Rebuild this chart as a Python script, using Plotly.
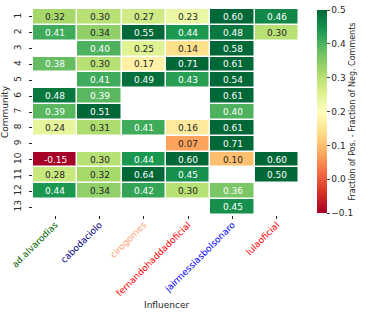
import plotly.graph_objects as go

influencers = ["ad.alvarodias", "cabodaciolo", "cirogomes",
               "fernandohaddadoficial", "jairmessiasbolsonaro", "lulaoficial"]
label_colors = ["#006400", "#000080", "#FFA07A", "#FF0000", "#0000FF", "#FF0000"]
communities = list(range(1, 14))

N = None
ad_alvarodias = [0.32, 0.41, N, 0.38, N, 0.48, 0.39, 0.24, N, -0.15, 0.28, 0.44, N]
cabodaciolo = [0.30, 0.34, 0.40, 0.30, 0.41, 0.39, 0.51, 0.31, N, 0.30, 0.32, 0.34, N]
cirogomes = [0.27, 0.55, 0.25, 0.17, 0.49, N, N, 0.41, N, 0.44, 0.64, 0.42, N]
fernandohaddad = [0.23, 0.44, 0.14, 0.71, 0.43, N, N, 0.16, 0.07, 0.60, 0.45, 0.30, N]
jairbolsonaro = [0.60, 0.48, 0.58, 0.61, 0.54, 0.61, 0.40, 0.61, 0.71, 0.10, N, 0.36, 0.45]
lulaoficial = [0.46, 0.30, N, N, N, N, N, N, N, 0.60, 0.50, N, N]

columns = [ad_alvarodias, cabodaciolo, cirogomes, fernandohaddad, jairbolsonaro, lulaoficial]
z = [[col[r] for col in columns] for r in range(len(communities))]
xidx = list(range(len(influencers)))

fig = go.Figure(go.Heatmap(
    z=z, x=xidx, y=communities,
    colorscale="RdYlGn", zmin=-0.1, zmax=0.5,
    xgap=1.5, ygap=1.5, hoverongaps=False,
    colorbar=dict(
        thickness=10, len=203, lenmode="pixels", y=0.995, yanchor="top",
        x=1, xanchor="left", xpad=18, ypad=0, xref="paper",
        tickvals=[-0.1, 0.0, 0.1, 0.2, 0.3, 0.4, 0.5],
        ticktext=["\u22120.1", "0.0", "0.1", "0.2", "0.3", "0.4", "0.5"],
        ticks="outside", ticklen=3, tickfont=dict(size=9, color="#262626"),
        outlinewidth=0,
        title=dict(text="Fraction of Pos. - Fraction of Neg. Comments",
                   side="right", font=dict(size=8, color="#262626")),
    ),
))

annotations = []
for r, comm in enumerate(communities):
    for c in xidx:
        v = z[r][c]
        if v is None:
            continue
        txt = f"{v:.2f}"
        color = "#262626" if 0.0 <= v < 0.35 else "white"
        annotations.append(dict(x=c, y=comm, xref="x", yref="y", text=txt, showarrow=False,
                                font=dict(size=9, color=color)))
annotations.append(dict(x=0.5, y=-0.437, xref="paper", yref="paper", text="Influencer",
                        showarrow=False, font=dict(size=9, color="#262626"),
                        xanchor="center", yanchor="middle"))

fig.update_layout(
    width=374, height=317,
    margin=dict(l=33, r=75, t=9, b=102, autoexpand=False),
    paper_bgcolor="white", plot_bgcolor="white",
    font=dict(family="DejaVu Sans", size=9, color="#262626"),
    annotations=annotations,
)
fig.update_xaxes(
    tickangle=-45, ticks="outside", ticklen=3, tickcolor="#262626",
    tickmode="array", tickvals=xidx, range=[-0.5, len(influencers) - 0.5],
    ticktext=[f'<span style="color:{c}">{n}</span>' for n, c in zip(influencers, label_colors)],
    ticklabelstandoff=-3, automargin=False,
    showgrid=False, zeroline=False, showline=False,
)
fig.update_yaxes(
    range=[13.5, 0.5], tickmode="array", tickvals=communities,
    ticktext=[str(c) for c in communities],
    tickangle=-90, ticks="outside", ticklen=3, ticklabelstandoff=4,
    tickcolor="#262626", title=dict(text="Community", font=dict(size=9), standoff=4),
    showgrid=False, zeroline=False, showline=False, automargin=False,
)

fig.write_html("out.html", config={"displayModeBar": False},
               post_script="document.body.style.margin='0';")
